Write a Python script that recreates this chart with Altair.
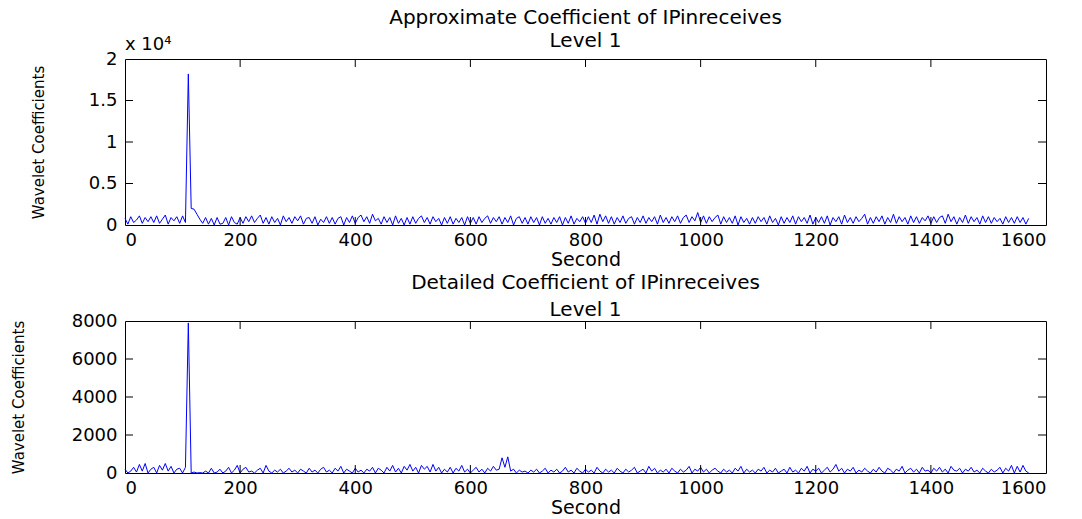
import altair as alt
import pandas as pd

# Sample times (seconds) shared by both coefficient series
seconds = list(range(0, 1575, 5))

# Level-1 approximation coefficients of IPinreceives
approx_coef = [
    800, 100, 1000, 300, 600, 1100, 200, 900, 400, 1000,
    300, 1100, 200, 700, 1200, 100, 900, 500, 1000, 200,
    1100, 300, 18200, 2000, 1900, 1300, 700, 200, 900, 100,
    800, 0, 900, 100, 200, 900, 0, 1000, 300, 100,
    900, 200, 1000, 400, 1100, 300, 800, 1200, 200, 900,
    100, 1000, 300, 800, 0, 1100, 400, 900, 200, 1000,
    500, 1100, 100, 800, 900, 200, 1000, 0, 700, 300,
    1000, 200, 900, 100, 800, 1000, 0, 900, 300, 1100,
    200, 900, 1200, 400, 1000, 200, 1300, 500, 800, 100,
    1000, 300, 900, 0, 1100, 200, 800, 0, 900, 100,
    1000, 200, 800, 1100, 300, 900, 100, 1000, 400, 800,
    0, 900, 200, 1000, 100, 800, 300, 900, 0, 1000,
    200, 900, 100, 1000, 300, 800, 1100, 200, 900, 400,
    1000, 100, 900, 300, 1100, 0, 800, 1000, 200, 900,
    100, 1000, 300, 900, 0, 1000, 200, 800, 100, 900,
    300, 1000, 0, 900, 200, 1100, 100, 800, 400, 1000,
    200, 1000, 300, 1200, 100, 1300, 400, 1100, 200, 1000,
    100, 900, 300, 1100, 200, 800, 1000, 100, 900, 300,
    1100, 200, 900, 400, 1000, 100, 1200, 300, 900, 200,
    1000, 400, 1100, 200, 900, 1200, 300, 1000, 500, 1500,
    300, 1100, 200, 1000, 400, 900, 1200, 100, 1000, 300,
    900, 200, 1100, 0, 1000, 300, 800, 100, 900, 200,
    1000, 400, 900, 100, 1100, 300, 800, 0, 1000, 200,
    900, 300, 1100, 100, 1000, 400, 900, 200, 1200, 100,
    900, 300, 1000, 200, 1100, 0, 900, 400, 1000, 100,
    1200, 300, 900, 200, 1000, 400, 800, 1300, 100, 900,
    200, 1000, 400, 1100, 100, 900, 300, 1300, 200, 1000,
    400, 900, 100, 1100, 300, 1000, 200, 900, 500, 1100,
    200, 1000, 300, 900, 1100, 200, 1300, 400, 1000, 100,
    900, 300, 1200, 200, 1000, 400, 900, 100, 1100, 300,
    1000, 200, 900, 400, 800, 100, 1000, 300, 900, 200,
    1000, 300, 900, 100, 800,
]

# Level-1 detail coefficients of IPinreceives
detail_coef = [
    200, 0, 100, 300, 50, 450, 100, 500, 0, 200,
    300, 0, 400, 150, 500, 100, 350, 0, 200, 250,
    0, 300, 7900, 0, 50, 0, 20, 0, 100, 0,
    250, 0, 50, 200, 0, 100, 300, 0, 150, 400,
    0, 200, 300, 50, 100, 0, 150, 250, 0, 400,
    100, 0, 150, 50, 200, 0, 100, 250, 50, 150,
    0, 200, 100, 0, 250, 50, 150, 0, 200, 300,
    50, 150, 0, 250, 100, 350, 0, 200, 100, 0,
    250, 50, 150, 0, 200, 100, 300, 0, 250, 150,
    0, 300, 100, 400, 50, 250, 0, 350, 150, 450,
    100, 300, 0, 400, 200, 350, 50, 450, 100, 300,
    0, 200, 50, 300, 0, 250, 100, 400, 50, 200,
    0, 150, 300, 50, 200, 0, 250, 100, 350, 150,
    200, 800, 300, 850, 100, 200, 0, 150, 50, 100,
    0, 150, 50, 200, 0, 100, 250, 0, 150, 50,
    200, 0, 100, 300, 50, 150, 0, 250, 100, 0,
    200, 50, 150, 0, 300, 100, 0, 200, 50, 150,
    0, 250, 100, 0, 200, 50, 150, 300, 0, 100,
    200, 0, 350, 100, 250, 0, 150, 50, 200, 0,
    250, 100, 0, 200, 50, 150, 350, 0, 200, 100,
    300, 50, 200, 0, 150, 250, 100, 0, 200, 50,
    150, 0, 250, 100, 350, 0, 200, 50, 150, 0,
    200, 100, 300, 0, 150, 50, 250, 0, 100, 200,
    0, 300, 50, 150, 0, 250, 100, 350, 0, 200,
    100, 250, 0, 150, 300, 50, 200, 450, 100, 250,
    0, 200, 100, 300, 0, 150, 50, 250, 100, 0,
    200, 50, 300, 100, 0, 250, 150, 0, 200, 100,
    350, 0, 150, 250, 50, 200, 0, 300, 100, 150,
    0, 250, 100, 300, 50, 200, 0, 350, 150, 100,
    250, 0, 200, 100, 300, 50, 150, 0, 250, 100,
    0, 200, 50, 150, 300, 0, 250, 100, 400, 0,
    350, 50, 400, 100, 0,
]

x_ticks = [0, 200, 400, 600, 800, 1000, 1200, 1400, 1600]
approx_ticks = [0, 5000, 10000, 15000, 20000]
detail_ticks = [0, 2000, 4000, 6000, 8000]

FONT = "DejaVu Sans"
W = 921
TICK = 8


def panel(values, yticks, height, title_lines, line_height, title_offset,
          ytitle_x, label_expr=None):
    x_scale = alt.Scale(domain=[x_ticks[0], x_ticks[-1]], nice=False, zero=False)
    y_scale = alt.Scale(domain=[yticks[0], yticks[-1]], nice=False)

    y_axis_opts = dict(
        values=yticks, format="d", title="Wavelet Coefficients",
        titleX=ytitle_x, titleY=height / 2, titleAngle=270,
        titleAlign="center", titleBaseline="bottom", titleFontSize=15,
    )
    if label_expr:
        y_axis_opts["labelExpr"] = label_expr
    x_axis = alt.Axis(values=x_ticks, format="d", title="Second", titlePadding=1)
    y_axis = alt.Axis(**y_axis_opts)

    xe = alt.X("second:Q", scale=x_scale, axis=x_axis)
    ye = alt.Y("coef:Q", scale=y_scale, axis=y_axis)

    data = pd.DataFrame({"second": seconds, "coef": values})
    line = alt.Chart(data).mark_line(color="#0000ff", strokeWidth=1).encode(
        x=xe, y=ye)

    # inward-pointing tick marks on all four sides of the box
    xt = pd.DataFrame({"second": x_ticks[1:-1]})
    yt = pd.DataFrame({"coef": yticks[1:-1]})
    top_t = alt.Chart(xt).mark_rule(color="black").encode(
        x=xe, y=alt.value(0), y2=alt.value(TICK))
    bot_t = alt.Chart(xt).mark_rule(color="black").encode(
        x=xe, y=alt.value(height - TICK), y2=alt.value(height))
    left_t = alt.Chart(yt).mark_rule(color="black").encode(
        y=ye, x=alt.value(0), x2=alt.value(TICK))
    right_t = alt.Chart(yt).mark_rule(color="black").encode(
        y=ye, x=alt.value(W - TICK), x2=alt.value(W))

    return alt.layer(line, top_t, bot_t, left_t, right_t).properties(
        width=W, height=height,
        title=alt.TitleParams(
            text=title_lines, lineHeight=line_height, fontSize=20, font=FONT,
            fontWeight="normal", anchor="middle", color="black",
            offset=title_offset,
        ),
    )


top = panel(approx_coef, approx_ticks, 166,
            ["Approximate Coefficient of IPinreceives", "Level 1"], 23, -15,
            -79, label_expr="datum.value / 10000")

# exponent label above the top panel's y axis
exp_label = alt.Chart(pd.DataFrame({"t": ["x 10\u2074"]})).mark_text(
    align="left", baseline="middle", font=FONT, fontSize=18, color="black"
).encode(text="t:N", x=alt.value(0), y=alt.value(-14))
top = alt.layer(top, exp_label)

bottom = panel(detail_coef, detail_ticks, 152,
               ["Detailed Coefficient of IPinreceives", "Level 1"], 27, -8, -99)

chart = alt.vconcat(top, bottom, spacing=96, bounds="flush").properties(
    padding={"left": 10, "top": 7, "right": 0, "bottom": 0}
).configure(
    font=FONT,
).configure_view(
    stroke="black", strokeWidth=1,
).configure_axis(
    domain=False, ticks=False, grid=False,
    labelFont=FONT, labelFontSize=18, labelColor="black",
    titleFont=FONT, titleFontSize=19, titleColor="black",
    titleFontWeight="normal", labelPadding=6,
).configure_axisY(
    labelPadding=8,
)

chart.save("out.html", embed_options={"renderer": "svg", "actions": False})
